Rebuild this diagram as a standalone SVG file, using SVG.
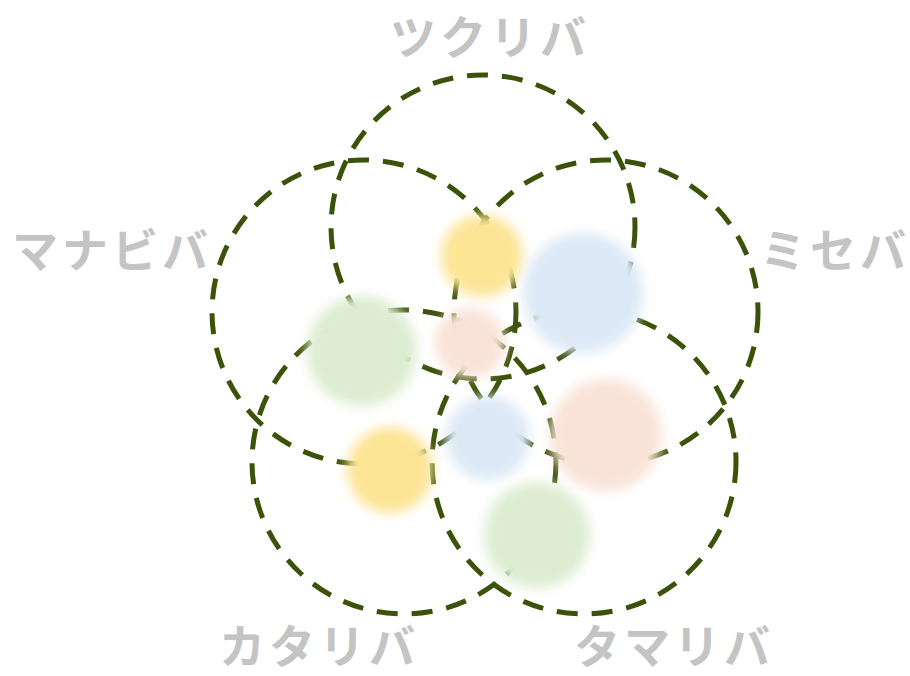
<svg xmlns="http://www.w3.org/2000/svg" width="910" height="676" viewBox="0 0 910 676">
<defs>
<style>
.ring{fill:none;stroke:#3b5309;stroke-width:5;stroke-dasharray:21 14}
.lbl{font-family:"Noto Sans CJK JP","Noto Sans CJK SC",sans-serif;font-weight:700;font-size:46px;fill:#c4c4c4;letter-spacing:4px}
.blob{filter:url(#bl)}
</style>
<filter id="bl" x="-40%" y="-40%" width="180%" height="180%"><feGaussianBlur stdDeviation="6"/></filter>
</defs>
<rect width="910" height="676" fill="#ffffff"/>
<g id="connectors">
<circle class="ring" cx="483" cy="227" r="152"/>
<circle class="ring" cx="606" cy="312" r="152"/>
<circle class="ring" cx="584" cy="462" r="152"/>
<circle class="ring" cx="404" cy="462" r="152"/>
<circle class="ring" cx="364" cy="312" r="152"/>
</g>
<g id="blobs">
<circle class="blob" cx="482" cy="256" r="41" fill="#fde596"/>
<circle class="blob" cx="583" cy="293" r="60" fill="#dde9f6"/>
<circle class="blob" cx="362" cy="351" r="55" fill="#ddedd2"/>
<circle class="blob" cx="470" cy="343" r="35" fill="#f9e3d8"/>
<circle class="blob" cx="488" cy="438" r="42" fill="#dde9f6"/>
<circle class="blob" cx="606" cy="435" r="56" fill="#f9e3d8"/>
<circle class="blob" cx="390" cy="470" r="43" fill="#fde596"/>
<circle class="blob" cx="537" cy="535" r="53" fill="#ddedd2"/>
</g>
<g id="n-top"><text class="lbl" x="490" y="54" text-anchor="middle">ツクリバ</text></g>
<g id="n-left"><text class="lbl" x="112" y="267" text-anchor="middle">マナビバ</text></g>
<g id="n-right"><text class="lbl" x="835" y="267" text-anchor="middle">ミセバ</text></g>
<g id="n-bl"><text class="lbl" x="319" y="663" text-anchor="middle">カタリバ</text></g>
<g id="n-br"><text class="lbl" x="674" y="663" text-anchor="middle">タマリバ</text></g>
</svg>
